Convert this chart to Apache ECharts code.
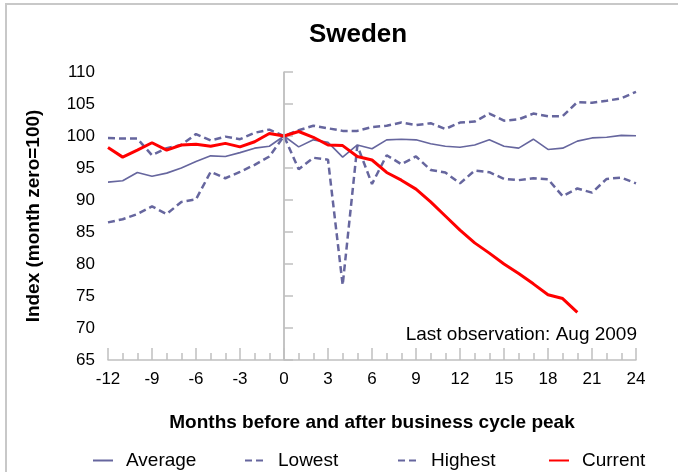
<!DOCTYPE html>
<html>
<head>
<meta charset="utf-8">
<script src="https://cdn.jsdelivr.net/npm/echarts@6/dist/echarts.min.js"></script>
<style>
  html, body { margin: 0; padding: 0; background: #fff; }
  #chart { width: 678px; height: 472px; }
</style>
</head>
<body>
<div id="chart"></div>
<script>
// months relative to the business cycle peak
var months = [-12, -11, -10, -9, -8, -7, -6, -5, -4, -3, -2, -1, 0, 1, 2, 3, 4, 5, 6,
  7, 8, 9, 10, 11, 12, 13, 14, 15, 16, 17, 18, 19, 20, 21, 22, 23, 24]

var average = [92.8, 93.0, 94.3, 93.7, 94.2, 95.0, 96.0, 96.9, 96.8, 97.4, 98.1, 98.4, 100,
  98.3, 99.4, 99.0, 96.7, 98.6, 98.0, 99.4, 99.5, 99.4, 98.8, 98.4, 98.25, 98.6, 99.4,
  98.4, 98.1, 99.5, 97.9, 98.1, 99.2, 99.7, 99.8, 100.1, 100.05]

var lowest = [86.5, 87.0, 87.8, 89.0, 87.8, 89.7, 90.1, 94.4, 93.4, 94.4, 95.5, 96.8, 100,
  94.8, 96.6, 96.3, 76.7, 98.5, 92.5, 97.0, 95.6, 96.8, 94.7, 94.3, 92.6, 94.6, 94.35,
  93.3, 93.1, 93.4, 93.25, 90.6, 91.8, 91.15, 93.3, 93.5, 92.6]

var highest = [99.7, 99.6, 99.6, 97.0, 98.1, 98.6, 100.3, 99.3, 99.9, 99.5, 100.5, 101.0, 100,
  100.9, 101.6, 101.2, 100.8, 100.8, 101.4, 101.6, 102.1, 101.7, 102.0, 101.1, 102.1,
  102.25, 103.5, 102.4, 102.6, 103.5, 103.1, 103.1, 105.3, 105.2, 105.5, 105.9, 106.9]

// current cycle, last observation Aug 2009 (month 20)
var current = [98.2, 96.7, 97.8, 98.95, 97.8, 98.6, 98.7, 98.4, 98.85, 98.3, 99.1, 100.4, 100,
  100.7, 99.8, 98.6, 98.5, 96.8, 96.25, 94.3, 93.1, 91.7, 89.7, 87.5, 85.3, 83.3, 81.7,
  80.0, 78.5, 76.9, 75.2, 74.6, 72.45]

var FONT = 'Liberation Sans, Arial, Helvetica, sans-serif'
var SLATE = '#66669e'
var AXIS_GREY = '#c0c0c0'

function pairs(vals) {
  return vals.map(function (v, i) { return [months[i], v] })
}

function legendAt(left, name) {
  return {
    left: left,
    top: 446,
    itemWidth: 20,
    itemHeight: 14,
    data: [name],
    itemStyle: { opacity: 0 },  // hide the circle symbol, keep the line
    textStyle: { fontFamily: FONT, fontSize: 19, color: '#000', padding: [0, 0, 0, 8] }
  }
}

var chart = echarts.init(document.getElementById('chart'))
chart.setOption({
  animation: false,
  backgroundColor: '#fff',
  title: {
    text: 'Sweden',
    left: 353,
    top: 17,
    textAlign: 'center',
    textStyle: { fontFamily: FONT, fontSize: 26, fontWeight: 'bold', color: '#000' }
  },
  legend: [
    legendAt(87, 'Average'),
    legendAt(239, 'Lowest'),
    legendAt(392, 'Highest'),
    legendAt(543, 'Current')
  ],
  grid: { left: 108, right: 42, top: 72, bottom: 112 },
  xAxis: {
    type: 'value',
    min: -12,
    max: 24,
    interval: 3,
    name: 'Months before and after business cycle peak',
    nameLocation: 'middle',
    nameGap: 53,
    nameTextStyle: { fontFamily: FONT, fontSize: 19, fontWeight: 'bold', color: '#000' },
    axisLine: { lineStyle: { color: AXIS_GREY, width: 1.5 } },
    axisTick: { inside: true, length: 12, lineStyle: { color: AXIS_GREY, width: 1.5 } },
    minorTick: { show: true, splitNumber: 3, length: 7, lineStyle: { color: AXIS_GREY, width: 1.5 } },
    axisLabel: { fontFamily: FONT, fontSize: 17, color: '#000', margin: 11 },
    splitLine: { show: false }
  },
  yAxis: {
    type: 'value',
    min: 65,
    max: 110,
    interval: 5,
    name: 'Index (month zero=100)',
    nameLocation: 'middle',
    nameGap: 65,
    nameTextStyle: { fontFamily: FONT, fontSize: 19, fontWeight: 'bold', color: '#000' },
    axisLine: { show: true, lineStyle: { color: AXIS_GREY, width: 1.5 } },
    axisTick: { show: true, inside: true, length: 9, lineStyle: { color: AXIS_GREY, width: 1.5 } },
    axisLabel: { fontFamily: FONT, fontSize: 17, color: '#000', margin: 13 },
    splitLine: { show: false }
  },
  graphic: [
    {
      type: 'rect',
      silent: true,
      shape: { x: 6, y: 4, width: 700, height: 500 },
      style: { fill: 'none', stroke: '#c8c8c8', lineWidth: 2 }
    },
    {
      type: 'text',
      x: 637,
      y: 335,
      style: {
        text: 'Last observation: Aug 2009',
        fontFamily: FONT,
        fontSize: 19,
        fill: '#000',
        textAlign: 'right',
        textVerticalAlign: 'middle'
      }
    }
  ],
  series: [
    {
      name: 'Average',
      type: 'line',
      data: pairs(average),
      symbol: 'none',
      z: 3,
      lineStyle: { color: SLATE, width: 1.6 },
      itemStyle: { color: SLATE },
      markLine: {
        silent: true,
        symbol: 'none',
        label: { show: false },
        lineStyle: { color: AXIS_GREY, width: 1.5, type: 'solid' },
        data: [{ xAxis: 0 }]
      }
    },
    {
      name: 'Lowest',
      type: 'line',
      data: pairs(lowest),
      symbol: 'none',
      z: 3,
      lineStyle: { color: SLATE, width: 2.5, type: [7, 4] },
      itemStyle: { color: SLATE }
    },
    {
      name: 'Highest',
      type: 'line',
      data: pairs(highest),
      symbol: 'none',
      z: 3,
      lineStyle: { color: SLATE, width: 2.5, type: [7, 4] },
      itemStyle: { color: SLATE }
    },
    {
      name: 'Current',
      type: 'line',
      data: pairs(current),
      symbol: 'none',
      z: 4,
      lineStyle: { color: '#ff0000', width: 3 },
      itemStyle: { color: '#ff0000' }
    }
  ]
})
</script>
</body>
</html>
